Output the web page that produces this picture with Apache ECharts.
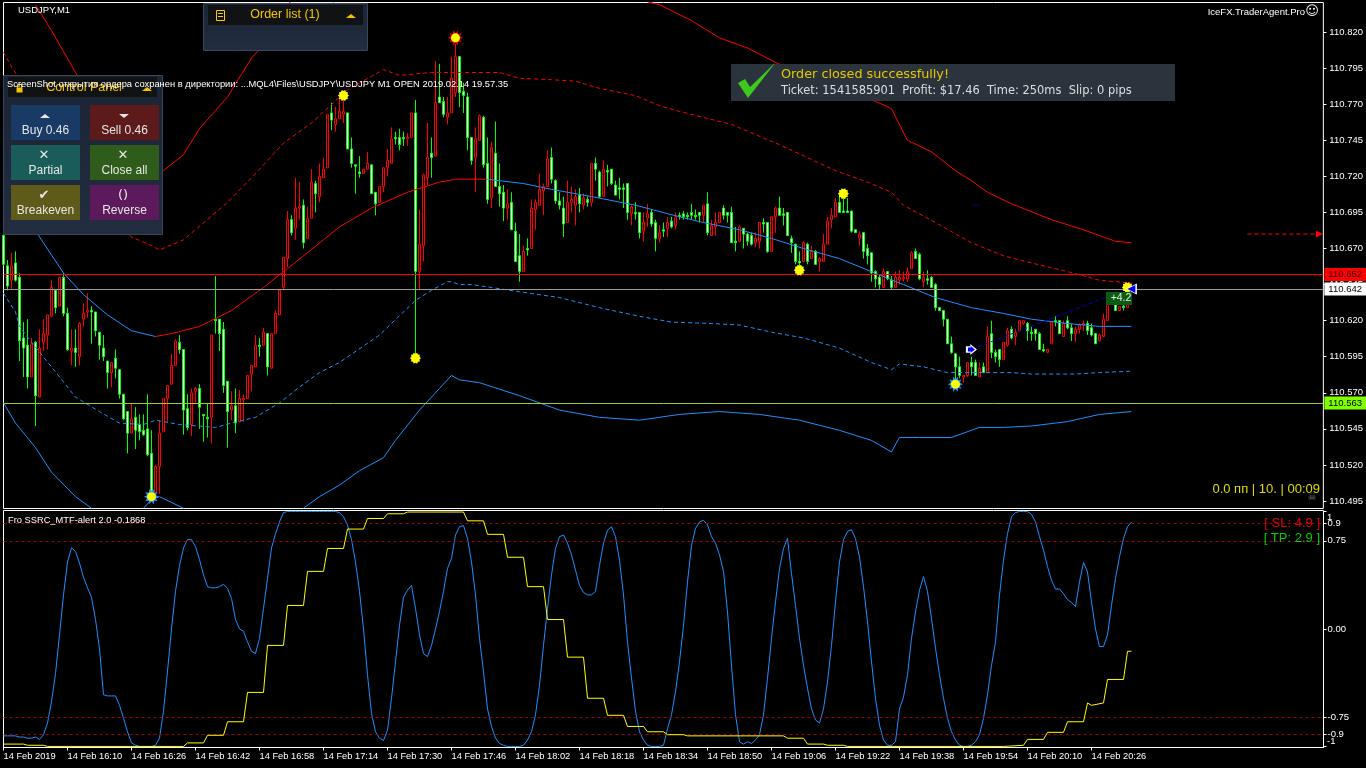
<!DOCTYPE html>
<html><head><meta charset="utf-8">
<style>html,body{margin:0;background:#000}#c{width:1366px;height:768px}</style>
<script src="https://cdn.jsdelivr.net/npm/echarts@6/dist/echarts.min.js"></script>
</head><body><div id="c"></div>
<script>
// USDJPY M1 quotes: thousandths above the handle
const handle = 110;
const opens = [679,658,648,660,650,608,603,581,605,567,
605,610,623,641,630,650,625,599,601,595,
621,626,627,626,612,601,592,584,594,586,
569,557,542,553,548,544,545,528,501,519,
543,566,576,589,605,600,559,548,571,573,
555,553,553,621,621,614,578,558,561,550,
565,566,583,588,603,603,611,587,611,624,
643,663,690,684,698,700,677,691,715,706,
719,726,764,756,760,763,764,739,728,723,
722,725,728,709,702,713,726,729,747,747,
747,746,747,764,654,672,719,736,734,775,
772,761,764,778,803,779,775,747,733,745,
761,729,705,736,713,709,698,702,682,665,
654,670,670,697,700,710,713,733,717,703,
698,688,702,700,707,700,704,702,729,723,
706,724,725,714,712,712,715,694,695,695,
682,691,695,688,677,683,684,689,686,693,
694,693,695,693,695,693,701,679,685,688,
698,695,695,675,675,684,680,679,674,675,
688,688,668,692,698,694,695,677,673,661,
661,673,663,668,661,661,673,690,692,702,
696,696,696,683,677,681,670,667,654,650,
643,654,648,643,648,649,649,656,668,666,
647,649,650,645,629,627,621,604,597,588,
581,582,591,591,581,588,584,611,598,600,
593,603,614,609,613,618,618,612,614,611,
600,598,604,620,620,609,620,615,611,614,
617,618,615,611,606,609,620,632,631,627,
630,629,641];
const closes = [659,644,658,648,606,601,581,604,568,601,
611,624,643,629,650,625,600,601,598,618,
625,627,626,613,603,595,584,591,587,569,
552,542,552,544,543,541,527,502,519,542,
566,575,589,606,600,558,546,570,573,560,
554,552,610,620,611,575,557,561,549,566,
566,582,589,603,602,612,588,611,625,641,
664,690,681,698,699,674,691,716,708,720,
725,763,759,760,765,765,739,729,727,722,
725,729,708,701,713,726,731,746,746,742,
746,747,764,654,673,721,733,733,771,771,
763,764,788,803,778,776,747,731,746,762,
728,704,740,713,708,698,701,683,661,654,
668,669,698,702,711,713,732,718,703,700,
687,702,704,706,701,705,702,729,725,706,
725,723,715,707,711,711,695,699,694,681,
688,694,687,677,681,682,688,685,692,692,
692,692,693,692,693,700,681,686,688,695,
693,693,674,674,685,680,675,673,677,688,
687,668,692,698,693,693,679,674,661,660,
674,661,668,659,663,673,689,693,702,695,
695,695,682,681,680,668,665,653,649,645,
654,649,643,650,650,650,654,667,663,649,
650,648,643,629,627,621,604,598,588,582,
582,591,588,582,587,584,609,598,595,593,
605,613,608,612,620,620,613,611,611,600,
599,600,619,619,611,618,615,611,614,617,
618,613,610,604,610,621,634,636,627,630,
629,631,642];
const highs = [683,662,667,668,653,619,621,608,606,614,
621,624,648,641,650,653,629,614,614,619,
632,639,630,626,612,610,592,591,600,586,
569,557,563,560,555,555,569,544,520,551,
566,575,597,607,610,600,569,573,574,576,
555,563,610,651,621,619,578,571,573,572,
569,582,589,610,608,615,611,611,627,641,
664,696,693,719,716,704,699,725,717,729,
733,763,771,768,774,773,764,747,728,734,
725,737,728,709,713,726,739,754,751,753,
751,750,764,773,697,722,757,747,800,798,
775,775,803,812,803,785,778,747,754,763,
762,747,744,758,729,714,711,709,688,680,
672,677,704,704,722,715,738,740,718,709,
706,717,713,711,712,708,706,729,733,724,
731,728,725,717,719,715,715,700,702,695,
695,701,697,690,686,688,692,692,695,695,
696,695,701,697,695,700,709,690,695,695,
700,695,699,685,686,684,681,681,681,688,
691,688,692,699,706,698,695,679,673,668,
675,674,672,669,664,680,692,698,705,708,
706,705,696,683,682,681,673,667,655,652,
656,654,651,654,655,654,657,668,670,667,
654,655,651,646,629,627,621,609,597,595,
582,591,595,593,591,591,616,620,600,600,
605,615,616,614,620,620,619,616,614,612,
604,600,619,623,620,620,623,618,616,618,
620,620,618,611,611,625,636,637,632,630,
631,646,646];
const lows = [658,641,642,647,592,581,573,581,547,567,
599,600,623,625,630,623,599,589,588,589,
616,622,604,609,593,592,573,574,580,566,
551,528,542,531,537,540,526,500,501,500,
543,550,576,589,597,541,544,540,563,545,
536,539,535,611,599,570,532,551,542,550,
550,566,571,588,595,603,582,587,611,624,
641,657,679,676,690,670,677,691,695,702,
719,726,752,751,760,757,739,726,708,719,
722,725,708,693,702,709,720,729,742,738,
741,741,747,594,641,661,714,719,734,771,
761,756,764,775,768,764,738,728,709,745,
726,701,698,713,699,689,690,683,661,647,
654,665,670,683,700,693,713,715,701,697,
678,688,695,686,695,697,699,699,717,705,
706,713,714,707,704,698,690,686,690,677,
675,685,685,668,674,678,678,684,683,690,
690,690,690,690,688,688,679,679,679,688,
690,688,674,668,675,670,672,672,671,670,
681,667,668,681,693,686,679,667,659,655,
661,659,663,659,654,661,673,684,692,695,
695,695,681,681,672,663,659,647,643,642,
643,648,642,643,645,647,647,656,663,648,
643,645,643,627,627,616,604,597,579,580,
577,581,582,582,581,584,584,594,591,588,
593,602,607,603,613,617,606,606,606,600,
598,598,604,616,611,609,614,606,605,611,
613,610,609,604,606,609,620,631,627,627,
627,629,640];

// Envelope readings as [bar, quote]
const upperOuterLeft = [[8,839],[12,821],[18,792],[25,762],[32,721],[36,719],[40,724],[45,735],[49,753],[56,775],[62,802],[64,808],[70,832],[73,848]];
const upperOuterRight = [[158,843],[164,839],[172,828],[179,816],[186,809],[193,799],[206,783],[218,772],[222,767],[226,745],[232,737],[238,724],[242,717],[246,709],[252,701],[262,690],[270,683],[278,675],[282,674]];
const upperInner = [[0,806],[2,796],[10,762],[20,714],[28,686],[32,678],[37,672],[39,669],[45,676],[56,702],[62,719],[70,743],[77,757],[86,780],[95,794],[99,790],[107,792],[124,792],[129,788],[137,787],[143,786],[149,781],[158,776],[164,769],[169,765],[182,756],[194,742],[208,724],[216,716],[222,709],[225,700],[233,688],[242,674],[250,665],[257,660],[266,654],[274,648],[282,646]];
const midFallFirst = [[0,724],[5,700],[9,678],[15,653],[20,638],[26,624],[32,613],[38,609]];
const midRise = [[38,609],[42,611],[49,616],[57,627],[65,643],[71,656],[80,676],[84,685],[92,698],[101,709],[109,716],[113,718],[121,718]];
const midFallSecond = [[121,718],[130,715],[137,711],[147,706],[158,700],[169,692],[175,688],[184,683],[192,677],[200,670],[209,663],[217,654],[225,645],[233,636],[242,629],[250,625],[257,621],[266,618],[274,616],[282,616]];
const lowerInner = [[0,639],[3,626],[4,616],[7,605],[12,588],[18,567],[24,557],[29,549],[35,548],[38,551],[44,548],[53,546],[57,549],[63,553],[69,563],[74,574],[79,584],[84,591],[94,610],[103,634],[107,641],[111,647],[112,647],[114,645],[117,645],[122,643],[129,640],[139,636],[149,629],[159,623],[167,619],[177,618],[184,617],[192,612],[200,608],[209,601],[217,591],[222,586],[224,590],[230,588],[236,584],[252,584],[257,583],[268,583],[274,584],[282,585]];
const lowerOuterA = [[0,563],[3,549],[8,532],[12,515],[18,498],[22,490]];
const lowerOuterB = [[35,490],[37,496],[39,498],[45,490]];
const lowerOuterC = [[75,490],[79,498],[84,506],[89,516],[95,525],[98,537],[104,558],[109,573],[112,582],[114,579],[119,577],[129,568],[139,558],[149,553],[159,551],[169,555],[179,557],[189,555],[199,551],[209,544],[217,537],[222,529],[224,539],[229,539],[237,539],[244,546],[250,546],[257,547],[266,550],[274,555],[282,557]];

// Trade trace, pending mark and signal dots as [bar, quote]
const tradeTrace = [[242,600],[281,642]];
const tradeStub = [[242,700],[244,700]];
const pendingTrace = [[311,680],[329,680]];
const signalsPlain = [[85,776],[103,594],[199,655],[210,708],[281,643]];
const signalsTop = [[113,816]];
const signalsBottom = [[37,498],[238,576]];

// Price levels and scale
const levelPrices = [110.652, 110.642, 110.563];
const priceTicks = [110.495,110.52,110.545,110.57,110.595,110.62,110.645,110.67,110.695,110.72,110.745,110.77,110.795,110.82];

// Time axis labels, one every sixteen bars
const timeLabels = ['14 Feb 2019','14 Feb 16:10','14 Feb 16:26','14 Feb 16:42','14 Feb 16:58','14 Feb 17:14','14 Feb 17:30','14 Feb 17:46','14 Feb 18:02','14 Feb 18:18','14 Feb 18:34','14 Feb 18:50','14 Feb 19:06','14 Feb 19:22','14 Feb 19:38','14 Feb 19:54','14 Feb 20:10','14 Feb 20:26'];

// SSRC oscillator, fast line per bar
const ssrcFast = [-.91,-.91,-.91,-.91,-.92,-.92,-.93,-.93,-.92,-.94,
-.90,-.80,-.62,-.38,-.05,.29,.57,.69,.66,.56,
.44,.35,.27,.08,-.17,-.56,-.57,-.57,-.57,-.65,
-.76,-.875,-.97,-.99,-1,-1,-1,-1,-.99,-.93,
-.70,-.36,0,.32,.54,.69,.76,.76,.70,.59,
.46,.36,.35,.35,.36,.38,.345,.26,.08,0,
-.02,-.11,-.19,-.21,-.08,.175,.43,.69,.81,.91,
.99,1,1,1,1,1,1,1,1,1,
1,1,1,1,.99,.955,.885,.76,.57,.32,
0,-.39,-.72,-.875,-.93,-.95,-.86,-.59,-.28,.03,
.27,.33,.37,.175,-.05,-.21,-.235,-.14,0,.15,
.32,.515,.60,.80,.87,.88,.77,.57,.29,-.08,
-.365,-.68,-.83,-.93,-.975,-.99,-1,-1,-1,-1,
-.99,-.945,-.875,-.73,-.48,-.14,.175,.46,.685,.785,
.80,.73,.63,.50,.37,.31,.29,.29,.32,.54,
.73,.84,.87,.785,.585,.29,-.11,-.42,-.70,-.875,
-.945,-.99,-1,-1,-1,-.99,-.85,-.73,-.535,-.28,
.03,.40,.71,.855,.91,.925,.885,.785,.73,.63,
.49,.145,-.31,-.73,-.96,-.98,-.96,-.975,-.945,-.90,
-.73,-.42,-.08,.23,.515,.685,.77,.47,.20,-.08,
-.31,-.505,-.68,-.775,-.80,-.68,-.45,-.14,.23,.57,
.76,.83,.845,.77,.61,.36,.06,-.28,-.59,-.82,
-.945,-.99,-.99,-.96,-.68,-.58,-.39,-.08,.145,.33,
.445,.32,.09,-.165,-.39,-.59,-.76,-.875,-.945,-.99,
-1,-1,-.99,-.96,-.90,-.76,-.56,-.31,-.11,.29,
.585,.81,.955,.99,1,1,1,.975,.91,.785,
.67,.53,.415,.34,.34,.30,.25,.225,.19,.40,
.565,.485,.23,0,-.15,-.15,-.05,.20,.43,.615,
.77,.87,.91];
// Slow stepped line as [bar, value]
const ssrcSlow = [[0,-.98],[5,-.98],[6,-.99],[10,-.99],[11,-1],[45,-1],[46,-.97],[50,-.97],[51,-.905],[55,-.905],[56,-.79],[60,-.79],[61,-.54],[65,-.54],[66,-.14],[70,-.14],[71,.2],[75,.2],[76,.49],[80,.49],[81,.685],[85,.685],[86,.85],[90,.85],[91,.94],[95,.94],[96,.98],[100,.98],[101,.995],[115,.995],[116,.92],[120,.92],[121,.805],[125,.805],[126,.61],[130,.61],[131,.36],[135,.36],[136,.08],[140,.08],[141,-.24],[145,-.24],[146,-.59],[150,-.59],[151,-.735],[155,-.735],[156,-.83],[160,-.83],[161,-.875],[165,-.875],[166,-.9],[170,-.9],[171,-.91],[195,-.91],[196,-.93],[200,-.93],[201,-.98],[205,-.98],[206,-.99],[210,-.99],[211,-1],[250,-1],[255,-.99],[256,-.94],[260,-.94],[261,-.88],[265,-.88],[266,-.79],[270,-.79],[271,-.63],[272,-.65],[275,-.63],[276,-.43],[280,-.43],[281,-.19],[282,-.19]];
const ssrcLevels = [.9,.75,-.75,-.9];
const ssrcTicks = [1,.9,.75,0,-.75,-.9,-1];
const ssrcLabelTicks = [.9,.75,0,-.75,-.9];

const FONT = 'Liberation Sans';
const WIDE = 'DejaVu Sans';
const BLUE = '#1e90ff';
const px = v => handle + v / 1000;
const quotes = a => a.map(([b, v]) => [b, px(v)]);

const barCount = 331;
const categories = Array.from({length: barCount}, (_, i) => (i % 16 === 0 && timeLabels[i / 16]) || '');
const candles = opens.map((o, i) => [px(o), px(closes[i]), px(lows[i]), px(highs[i])]);

// Spiked disc used for the signal dots and their halos
function burst(points, inner) {
  let d = '';
  for (let i = 0; i < points * 2; i++) {
    const r = i % 2 ? inner : 1, a = Math.PI * i / points;
    d += (i ? 'L' : 'M') + (r * Math.cos(a) * 10 + 10).toFixed(2) + ' ' + (r * Math.sin(a) * 10 + 10).toFixed(2);
  }
  return 'path://' + d + 'Z';
}

const line = (data, color, dashed, extra) => Object.assign({
  type: 'line', data, xAxisIndex: 0, yAxisIndex: 0, showSymbol: false, symbol: 'none', silent: true, z: 4,
  lineStyle: {color, width: 1, type: dashed ? [4, 3] : 'solid'}
}, extra);

const dots = (data, size, color, path, z) => ({
  type: 'scatter', data: quotes(data), xAxisIndex: 0, yAxisIndex: 0, symbol: path, symbolSize: size,
  itemStyle: {color, opacity: 1}, silent: true, z
});

const levelColors = [['#ff0000', '#ff0000', '#1a0000'], ['#9a9a9a', '#ffffff', '#000000'], ['#9acd32', '#7fff00', '#000000']];

const series = [
  {type: 'candlestick', data: candles, xAxisIndex: 0, yAxisIndex: 0, barWidth: 2, silent: true, z: 3,
   itemStyle: {color: '#000000', color0: '#ffffff', borderColor: '#ff0000', borderColor0: '#00ff00', borderWidth: 1}},
  line(quotes(upperOuterLeft), '#ff0000'),
  line(quotes(upperOuterRight), '#ff0000'),
  line(quotes(upperInner), '#ff0000', true),
  line(quotes(midFallFirst), BLUE),
  line(quotes(midRise), '#ff0000'),
  line(quotes(midFallSecond), BLUE),
  line(quotes(lowerInner), BLUE, true),
  line(quotes(lowerOuterA), BLUE),
  line(quotes(lowerOuterB), BLUE),
  line(quotes(lowerOuterC), BLUE),
  line(quotes(tradeTrace), '#0000cd', true),
  line(quotes(tradeStub), '#00008b'),
  line(quotes(pendingTrace), '#ff0000', true),
  dots([pendingTrace[1]], 7, '#ff0000', 'path://M0 0L10 5L0 10Z', 6),
  {type: 'line', data: [], xAxisIndex: 0, yAxisIndex: 0, silent: true, z: 5,
   markLine: {silent: true, symbol: 'none', animation: false, precision: 3,
     data: levelPrices.map((v, i) => ({
       yAxis: v,
       lineStyle: {color: levelColors[i][0], width: 1, type: 'solid'},
       label: {show: true, position: 'end', distance: 1, formatter: v.toFixed(3), fontFamily: FONT, fontSize: 9.5,
         color: levelColors[i][2], backgroundColor: levelColors[i][1], padding: [2, 4, 1, 4]}
     }))}},
  dots(signalsTop, 15, '#e00000', burst(10, .62), 7),
  dots(signalsBottom, 15, BLUE, burst(10, .62), 7),
  dots(signalsPlain, 11, '#ffff00', burst(10, .78), 8),
  dots(signalsTop, 9, '#ffff00', 'circle', 8),
  dots(signalsBottom, 9, '#ffff00', 'circle', 8),
  dots([[242, 600]], 11, '#ffffff', 'path://M0 2L4 2L4 0L10 5L4 10L4 8L0 8Z', 9),
  dots([[242, 600]], 7, '#0000ee', 'path://M0 2L4 2L4 0L10 5L4 10L4 8L0 8Z', 9),
  dots([[282, 642]], 11, '#ffffff', 'path://M0 5L7 0L7 10Z', 9),
  dots([[282, 642]], 8, '#0000ee', 'path://M0 5L7 0L7 10Z', 9),
  {type: 'line', data: ssrcFast, xAxisIndex: 1, yAxisIndex: 1, showSymbol: false, symbol: 'none', silent: true, z: 4,
   lineStyle: {color: BLUE, width: 1},
   markLine: {silent: true, symbol: 'none', animation: false, precision: 3, label: {show: false},
     lineStyle: {color: '#a00000', width: 1, type: [3, 3]},
     data: ssrcLevels.map(v => ({yAxis: v}))}},
  {type: 'line', data: ssrcSlow, xAxisIndex: 1, yAxisIndex: 1, showSymbol: false, symbol: 'none', silent: true, z: 5,
   lineStyle: {color: '#ffff00', width: 1}}
];

// Trading terminal overlays
const g = [];
const rect = (x, y, w, h, fill, stroke) => g.push({type: 'rect', z: 100, silent: true,
  shape: {x, y, width: w, height: h}, style: {fill, stroke: stroke || null, lineWidth: 1}});
const text = (x, y, t, size, color, align, family) => g.push({type: 'text', z: 101, silent: true, x, y,
  style: {text: t, fill: color, fontSize: size, fontFamily: family || FONT, align: align || 'left', verticalAlign: 'middle'}});
const poly = (pts, fill, stroke) => g.push({type: 'polygon', z: 101, silent: true, shape: {points: pts}, style: {fill, stroke: stroke || null}});

const PANEL = {type: 'linear', x: 0, y: 0, x2: 0, y2: 1, colorStops: [{offset: 0, color: '#1a2434'}, {offset: 1, color: '#222d40'}]};

// Order list panel
rect(203.5, 3.5, 164, 47, PANEL, '#36465c');
rect(208, 5, 155, 20, '#111214');
rect(216.5, 10.5, 8, 10, null, '#ffcc00');
rect(218, 13, 5, 1, '#ffcc00'); rect(218, 16, 5, 1, '#ffcc00');
text(285, 15, 'Order list (1)', 12.5, '#f5c400', 'center');
poly([[346, 18], [351, 14], [356, 18]], '#f5c400');

// Control panel
rect(3.5, 75.5, 159, 159, PANEL, '#36465c');
rect(8, 77, 149, 20, '#111214');
rect(16.5, 87.5, 6, 5, '#f5c400'); rect(17.5, 84.5, 4, 4, null, '#f5c400');
text(84, 88, 'Control Panel', 12.5, '#f5c400', 'center');
poly([[142, 91], [147, 87], [152, 91]], '#f5c400');
const buttons = [
  [11, 105, '#1a3a66', 'Buy 0.46', 'up'], [90, 105, '#5c1a1a', 'Sell 0.46', 'down'],
  [11, 145, '#1a5c5a', 'Partial', '✕'], [90, 145, '#2f5c1a', 'Close all', '✕'],
  [11, 185, '#5e5a1a', 'Breakeven', '✔'], [90, 185, '#5c1a5c', 'Reverse', '()']
];
buttons.forEach(([x, y, color, name, icon]) => {
  rect(x, y, 69, 35, color);
  text(x + 34.5, y + 26, name, 12, '#e6e6e6', 'center');
  if (icon === 'up') poly([[x + 29, y + 13], [x + 34, y + 9], [x + 39, y + 13]], '#e6e6e6');
  else if (icon === 'down') poly([[x + 29, y + 9], [x + 34, y + 13], [x + 39, y + 9]], '#e6e6e6');
  else text(x + 33, y + 11, icon, 13, '#e6e6e6', 'center', WIDE);
});
text(7, 84, 'ScreenShot открытия ордера сохранен в директории: ...MQL4\\Files\\USDJPY\\USDJPY M1 OPEN 2019.02.14 19.57.35', 9.35, '#ffffff');

// Order confirmation banner
rect(731, 64, 444, 37, '#2b343d');
poly([[738, 83], [745, 79], [750, 87], [776, 62], [748, 98]], '#3cc81e');
text(781, 75, 'Order closed successfully!', 12.8, '#e6c800', 'left', WIDE);
text(781, 91, 'Ticket: 1541585901  Profit: $17.46  Time: 250ms  Slip: 0 pips', 11.45, '#dddddd', 'left', WIDE);

// Chart captions
text(18, 10, 'USDJPY,M1', 9.5, '#ffffff');
text(1305, 12, 'IceFX.TraderAgent.Pro', 9.5, '#ffffff', 'right');
text(1312, 12, '☺', 13, '#ffffff', 'center', WIDE);
text(1320, 489, '0.0 пп | 10. | 00:09', 13, '#dcdc00', 'right');
text(1312, 497, '☠', 10, '#777777', 'center', WIDE);
text(8, 520, 'Fro SSRC_MTF-alert 2.0 -0.1868', 9.3, '#ffffff');
text(1320, 523, '[ SL: 4.9 ]', 13, '#dd0000', 'right');
text(1320, 538, '[ TP: 2.9 ]', 13, '#00cc00', 'right');

// Scale ends of the oscillator sit just inside the pane edges
text(1327, 517, '1', 9.5, '#ffffff');
text(1327, 741, '-1', 9.5, '#ffffff');

// Floating profit tag beside the latest bars
rect(1106, 292, 26, 13, '#0a5c12');
text(1121, 298.5, '+4.2', 10.5, '#e6e6e6', 'center');

const chart = echarts.init(document.getElementById('c'), null, {renderer: 'canvas'});
chart.setOption({
  animation: false,
  backgroundColor: '#000000',
  textStyle: {fontFamily: FONT},
  graphic: g,
  grid: [
    {left: 3.5, top: 2.5, width: 1320, height: 506, show: true, backgroundColor: 'transparent', borderColor: '#ffffff', borderWidth: 1},
    {left: 3.5, top: 510.5, width: 1320, height: 237, show: true, backgroundColor: 'transparent', borderColor: '#ffffff', borderWidth: 1}
  ],
  xAxis: [
    {type: 'category', gridIndex: 0, data: categories, boundaryGap: false,
     axisLine: {show: false}, axisTick: {show: false}, axisLabel: {show: false}, splitLine: {show: false}},
    {type: 'category', gridIndex: 1, data: categories, boundaryGap: false,
     axisLine: {onZero: false, lineStyle: {color: '#ffffff'}},
     axisTick: {length: 3, lineStyle: {color: '#ffffff'}, interval: i => i % 16 === 0 && i <= 272},
     axisLabel: {color: '#ffffff', fontFamily: FONT, fontSize: 9.3, align: 'left', margin: 4, hideOverlap: false,
       interval: i => i % 16 === 0 && i <= 272},
     splitLine: {show: false}}
  ],
  yAxis: [
    {type: 'value', gridIndex: 0, position: 'right', min: px(489.8), max: px(840.5), scale: true,
     axisLine: {show: false}, splitLine: {show: false},
     axisTick: {show: true, length: 3, lineStyle: {color: '#ffffff'}, customValues: priceTicks},
     axisLabel: {color: '#ffffff', fontFamily: FONT, fontSize: 9.5, margin: 6, customValues: priceTicks, hideOverlap: false,
       formatter: v => v.toFixed(3)}},
    {type: 'value', gridIndex: 1, position: 'right', min: -1.009, max: 1.008,
     axisLine: {show: false}, splitLine: {show: false},
     axisTick: {show: true, length: 3, lineStyle: {color: '#ffffff'}, customValues: ssrcTicks},
     axisLabel: {color: '#ffffff', fontFamily: FONT, fontSize: 9.5, margin: 4, customValues: ssrcLabelTicks, hideOverlap: false,
       showMinLabel: true, showMaxLabel: true,
       formatter: v => Math.abs(v) === .9 ? String(v) : v.toFixed(2)}}
  ],
  series
});
</script></body></html>
